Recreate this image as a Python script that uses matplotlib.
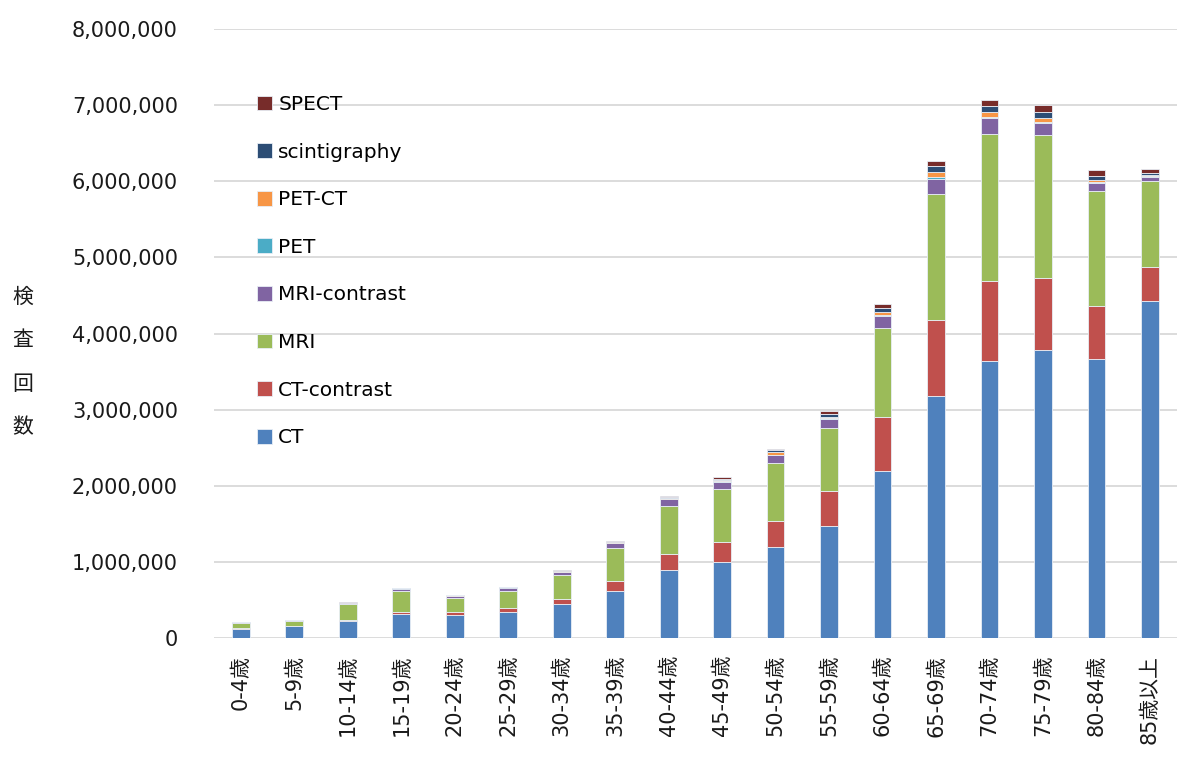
import numpy as np
import matplotlib.pyplot as plt
from matplotlib.ticker import FuncFormatter

plt.rcParams['font.family'] = ['DejaVu Sans', 'Noto Sans CJK JP']

# age groups (x axis)
ages = ['0-4歳', '5-9歳', '10-14歳', '15-19歳', '20-24歳', '25-29歳', '30-34歳',
        '35-39歳', '40-44歳', '45-49歳', '50-54歳', '55-59歳', '60-64歳',
        '65-69歳', '70-74歳', '75-79歳', '80-84歳', '85歳以上']

# exam counts in thousands
ct = [120, 155, 226, 318, 300, 344, 450, 620, 894, 1000, 1193, 1472, 2200,
      3175, 3645, 3786, 3664, 4425]
ct_contrast = [13, 6, 17, 30, 40, 53, 65, 125, 214, 262, 342, 457, 700,
               1005, 1043, 944, 700, 446]
mri = [62, 68, 205, 276, 190, 227, 315, 440, 630, 693, 767, 837, 1178,
       1649, 1935, 1874, 1512, 1137]
mri_contrast = [12, 8, 12, 20, 25, 30, 40, 60, 88, 99, 98, 109, 154,
                207, 202, 160, 103, 51]
pet = [1, 1, 1, 2, 2, 2, 3, 4, 5, 6, 10, 10, 10, 14, 17, 14, 10, 5]
pet_ct = [1, 1, 2, 3, 4, 5, 8, 10, 13, 15, 30, 25, 40, 70, 67, 56, 33, 16]
scinti = [5, 3, 4, 4, 4, 5, 6, 6, 13, 20, 25, 35, 55, 80, 76, 71, 47, 24]
spect = [3, 2, 3, 4, 4, 5, 5, 5, 10, 20, 15, 35, 45, 61, 84, 94, 84, 52]

series = [('CT', ct, '#4F81BD'),
          ('CT-contrast', ct_contrast, '#C0504D'),
          ('MRI', mri, '#9BBB59'),
          ('MRI-contrast', mri_contrast, '#8064A2'),
          ('PET', pet, '#4BACC6'),
          ('PET-CT', pet_ct, '#F79646'),
          ('scintigraphy', scinti, '#2C4D75'),
          ('SPECT', spect, '#772C2A')]

fig = plt.figure(figsize=(11.78, 7.57), dpi=100)
ax = fig.add_axes([0.1817, 0.157, 0.8173, 0.8047])

x = np.arange(len(ages))
bottom = np.zeros(len(ages))
for name, vals, col in series:
    v = np.array(vals) * 1000
    ax.bar(x, v, 0.33, bottom=bottom, color=col, label=name,
           edgecolor='#E8EEF6', linewidth=0.6, zorder=3)
    bottom += v

ax.set_xlim(-0.5, len(ages) - 0.5)
ax.set_ylim(0, 8000000)
ax.set_yticks(np.arange(0, 8000001, 1000000))
ax.yaxis.set_major_formatter(FuncFormatter(lambda v, p: f'{int(v):,}'))
ax.grid(axis='y', color='#D9D9D9', linewidth=1.3, zorder=0)
for s in ax.spines.values():
    s.set_visible(False)
ax.tick_params(axis='y', length=0, pad=26, labelsize=15, colors='#1a1a1a')
ax.tick_params(axis='x', length=0, pad=12, labelsize=15, colors='#1a1a1a')
ax.set_xticks(x)
ax.set_xticklabels(ages, rotation=90, va='top', ha='center')

# y axis title, one character per line
fig.text(0.0195, 1 - 362 / 757, '検\n査\n回\n数', ha='center', va='center',
         fontsize=15, linespacing=2.25, color='#1a1a1a',
         family=['Noto Sans CJK JP'])

h, l = ax.get_legend_handles_labels()
ax.legend(h[::-1], l[::-1], loc='upper left',
          bbox_to_anchor=(257 / 1178, 1 - 95 / 757),
          bbox_transform=fig.transFigure, frameon=False, fontsize=14.5,
          handlelength=0.75, handleheight=0.75, handletextpad=0.3,
          labelspacing=1.42, borderpad=0, borderaxespad=0)

fig.savefig('out.png', dpi=100)
